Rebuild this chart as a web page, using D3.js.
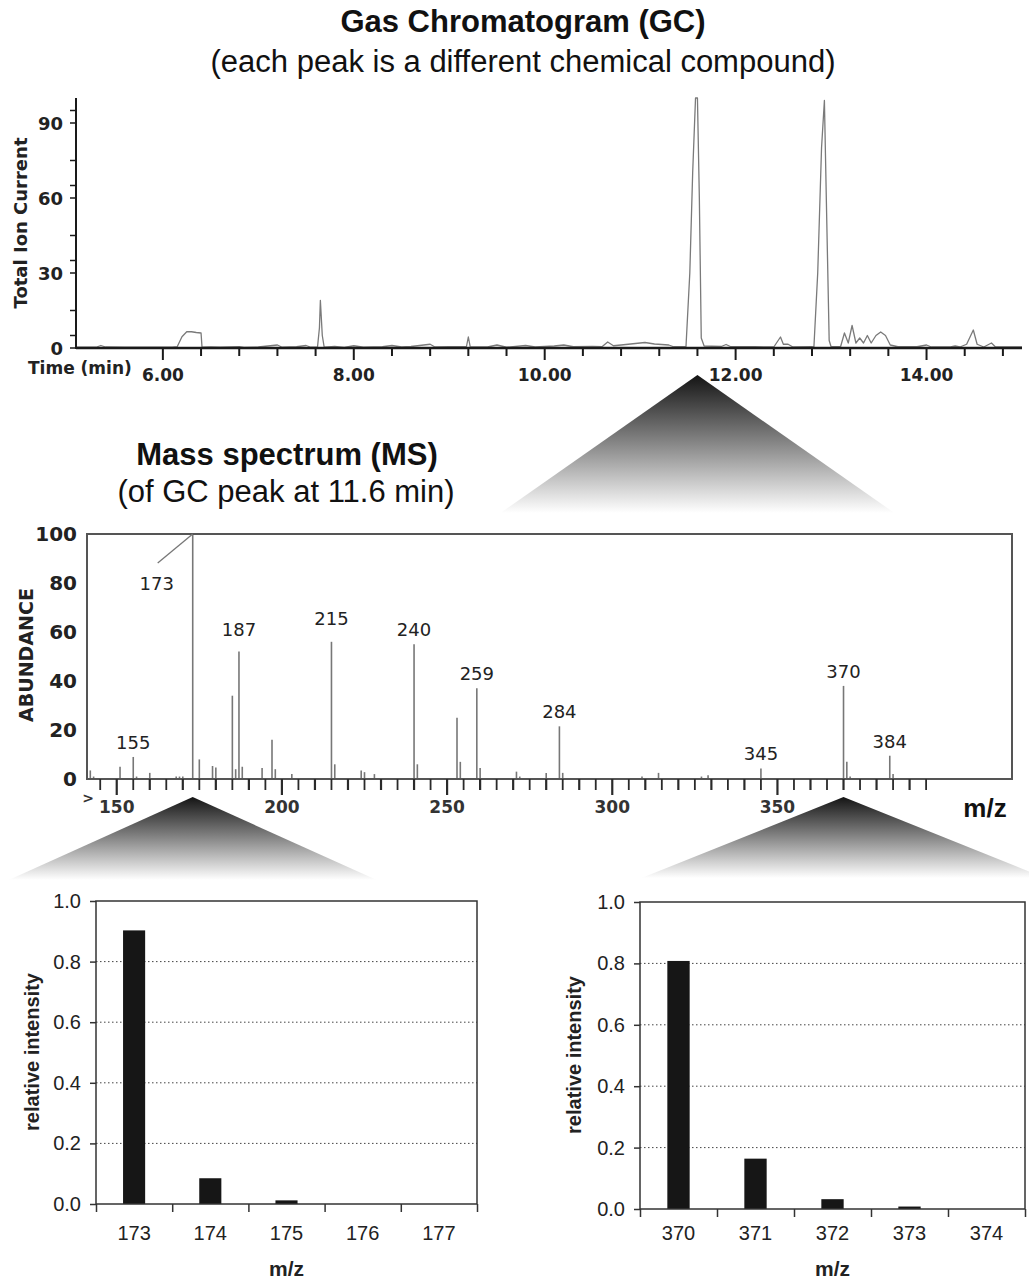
<!DOCTYPE html>
<html>
<head>
<meta charset="utf-8">
<script src="https://cdn.jsdelivr.net/npm/d3@7"></script>
<style>
  body { margin: 0; background: #fff; }
  svg { display: block; }
</style>
</head>
<body>
<div id="chart"></div>
<script>
const width = 1029;
const height = 1281;

// ---- GC trace (time in min, total ion current)
const gcTime = [5.09, 5.3, 5.35, 5.4, 5.6, 5.9, 6.1, 6.15, 6.2, 6.25, 6.3, 6.35, 6.4, 6.41, 6.5, 6.6, 6.8, 6.85,
  7.0, 7.2, 7.25, 7.4, 7.5, 7.55, 7.62, 7.64, 7.65, 7.67, 7.69, 7.8, 7.9, 8.0, 8.1, 8.3, 8.4, 8.5, 8.6, 8.8, 8.85,
  9.0, 9.18, 9.2, 9.22, 9.4, 9.5, 9.6, 9.8, 9.9, 10.1, 10.2, 10.3, 10.5, 10.6, 10.66, 10.72, 10.8, 10.95, 11.05,
  11.15, 11.3, 11.35, 11.48, 11.52, 11.55, 11.58, 11.6, 11.62, 11.64, 11.67, 11.75, 11.85, 11.9, 11.95, 12.2, 12.4,
  12.47, 12.5, 12.55, 12.6, 12.8, 12.82, 12.86, 12.9, 12.93, 12.95, 12.98, 13.0, 13.1, 13.14, 13.18, 13.22, 13.26,
  13.3, 13.34, 13.38, 13.42, 13.47, 13.52, 13.57, 13.62, 13.7, 13.9, 14.0, 14.05, 14.25, 14.3, 14.35, 14.42, 14.49,
  14.53, 14.6, 14.68, 14.72, 15.0];
const gcSignal = [0.3, 0.3, 1.0, 0.4, 0.3, 0.3, 0.3, 0.5, 4.5, 6.5, 6.5, 6.2, 6.0, 0.3, 0.4, 0.3, 0.5, 0.2,
  0.4, 1.2, 0.3, 0.5, 1.0, 0.3, 0.4, 8, 19, 5, 0.3, 0.6, 0.2, 0.9, 0.3, 0.5, 1.0, 0.4, 0.6, 1.5, 0.4,
  0.5, 0.5, 4.4, 0.4, 0.4, 1.2, 0.3, 1.0, 0.4, 0.8, 1.2, 0.5, 0.6, 0.5, 2.4, 0.9, 1.2, 1.8, 2.2,
  1.6, 1.2, 0.5, 0.5, 30, 70, 100, 100, 60, 4, 0.8, 0.7, 0.6, 1.4, 0.5, 0.5, 0.4,
  4.4, 1.5, 1.5, 0.4, 0.5, 0.3, 30, 80, 99, 60, 3, 0.5, 0.6, 6, 2, 9, 2,
  4, 2, 5, 2, 5, 6.4, 5, 1.2, 0.5, 0.5, 1.2, 0.4, 0.4, 0.8, 0.4, 1.5, 7.2,
  1.5, 0.4, 2, 0.5, 0.4];
const gcMajorTicks = [6, 8, 10, 12, 14];
const gcMinorTicks = d3.range(6, 14.81, 0.4);
const gcYLabels = [0, 30, 60, 90];
const gcYMinor = [5, 15, 35, 45, 65, 75, 95];
const gcPeakTime = 11.6;

// ---- mass spectrum of the 11.6 min peak
const msMz = [142, 143, 151, 155, 156, 160, 168, 169, 170, 173, 175, 179, 180, 185, 186, 187, 188, 194, 197, 198,
  203, 215, 216, 224, 225, 228, 240, 241, 253, 254, 259, 260, 271, 272, 280, 284, 285, 309, 314, 327, 329,
  345, 370, 371, 372, 384, 385];
const msAbund = [3.5, 1, 5, 9, 1, 2.5, 1, 1, 1, 100, 8, 5.3, 4.7, 34, 4, 52, 5, 4.5, 16, 4,
  2, 56, 6, 3.5, 2.8, 2, 55, 6, 25, 7, 37, 4.5, 3, 1, 2.5, 21.5, 2.5, 1, 2.5, 1, 1.5,
  4.3, 38, 7, 1, 9.5, 2];
const msLabelled = [155, 173, 187, 215, 240, 259, 284, 345, 370, 384];
const msMajorTicks = [150, 200, 250, 300, 350];
const msMinorTicks = d3.range(145, 396, 5);
const msYTicks = [0, 20, 40, 60, 80, 100];

// ---- isotope clusters
const isoLeftMz = ["173", "174", "175", "176", "177"];
const isoLeftVal = [0.903, 0.085, 0.012, 0, 0];
const isoRightMz = ["370", "371", "372", "373", "374"];
const isoRightVal = [0.808, 0.164, 0.032, 0.008, 0];
const isoYTicks = [0, 0.2, 0.4, 0.6, 0.8, 1.0];

const svg = d3.select("#chart")
  .append("svg")
  .attr("width", width)
  .attr("height", height);

svg.append("rect").attr("width", width).attr("height", height).attr("fill", "#fff");

// gradient for the "zoom" triangles
const grad = svg.append("defs").append("linearGradient")
  .attr("id", "fade")
  .attr("x1", 0).attr("y1", 0).attr("x2", 0).attr("y2", 1);
grad.append("stop").attr("offset", "0%").attr("stop-color", "#141414");
grad.append("stop").attr("offset", "45%").attr("stop-color", "#7c7c7c");
grad.append("stop").attr("offset", "100%").attr("stop-color", "#ffffff");

const titleFont = "'Liberation Sans', Arial, Helvetica, sans-serif";
const axisFont = "'DejaVu Sans', Verdana, sans-serif";

function text(x, y, str, opts) {
  const t = svg.append("text")
    .attr("x", x).attr("y", y)
    .attr("text-anchor", opts.anchor || "middle")
    .attr("font-family", opts.family || titleFont)
    .attr("font-size", opts.size)
    .attr("font-weight", opts.weight || "normal")
    .attr("fill", opts.fill || "#111")
    .text(str);
  if (opts.rotate) t.attr("transform", `rotate(-90,${x},${y})`);
  return t;
}

function triangle(apexX, apexY, baseY, halfW) {
  svg.append("path")
    .attr("d", `M${apexX},${apexY}L${apexX + halfW},${baseY}L${apexX - halfW},${baseY}Z`)
    .attr("fill", "url(#fade)");
}

// ================= GC =================
text(523, 32, "Gas Chromatogram (GC)", { size: 31, weight: "bold" });
text(523, 72, "(each peak is a different chemical compound)", { size: 31 });

const xGC = d3.scaleLinear().domain([5.09, 15.0]).range([76, 1022]);
const yGC = d3.scaleLinear().domain([0, 100]).range([348, 98]);

const gc = svg.append("g");

gc.append("path")
  .datum(gcTime.map((t, i) => [t, gcSignal[i]]))
  .attr("fill", "none")
  .attr("stroke", "#7a7a7a")
  .attr("stroke-width", 1.3)
  .attr("stroke-linejoin", "round")
  .attr("d", d3.line().x(d => xGC(d[0])).y(d => yGC(d[1])));

// x axis ticks
gc.selectAll(".gcmin")
  .data(gcMinorTicks)
  .enter().append("line")
  .attr("x1", d => xGC(d)).attr("x2", d => xGC(d))
  .attr("y1", 348).attr("y2", d => gcMajorTicks.some(m => Math.abs(m - d) < 1e-6) ? 360 : 356)
  .attr("stroke", "#1a1a1a").attr("stroke-width", 2);

gc.selectAll(".gclab")
  .data(gcMajorTicks)
  .enter().append("text")
  .attr("x", d => xGC(d)).attr("y", 381)
  .attr("text-anchor", "middle")
  .attr("font-family", axisFont).attr("font-size", 17).attr("font-weight", "bold")
  .attr("fill", "#222")
  .text(d => d.toFixed(2));

// y axis ticks
gc.selectAll(".gcy")
  .data(gcYLabels.concat(gcYMinor))
  .enter().append("line")
  .attr("x1", 70).attr("x2", 76)
  .attr("y1", d => yGC(d)).attr("y2", d => yGC(d))
  .attr("stroke", "#1a1a1a").attr("stroke-width", 1.5);

gc.selectAll(".gcylab")
  .data(gcYLabels)
  .enter().append("text")
  .attr("x", 63).attr("y", d => yGC(d) + 6.5)
  .attr("text-anchor", "end")
  .attr("font-family", axisFont).attr("font-size", 18).attr("font-weight", "bold")
  .attr("fill", "#222")
  .text(d => d);

gc.append("line")
  .attr("x1", 76).attr("x2", 1022).attr("y1", 348).attr("y2", 348)
  .attr("stroke", "#1a1a1a").attr("stroke-width", 2.5);
gc.append("line")
  .attr("x1", 76).attr("x2", 76).attr("y1", yGC(100)).attr("y2", 349)
  .attr("stroke", "#1a1a1a").attr("stroke-width", 2);

text(27, 223, "Total Ion Current", { size: 18, weight: "bold", family: axisFont, rotate: true, fill: "#222" });
text(28, 374, "Time (min)", { size: 17, weight: "bold", family: axisFont, anchor: "start", fill: "#222" });

triangle(xGC(gcPeakTime), 375, 513, 197);

// ================= MS =================
text(287, 465, "Mass spectrum (MS)", { size: 31, weight: "bold" });
text(286, 502, "(of GC peak at 11.6 min)", { size: 31 });

const xMS = d3.scaleLinear().domain([141, 421]).range([87, 1012]);
const yMS = d3.scaleLinear().domain([0, 100]).range([779, 534]);

const ms = svg.append("g");

ms.selectAll(".peak")
  .data(msMz.map((m, i) => [m, msAbund[i]]))
  .enter().append("line")
  .attr("x1", d => xMS(d[0])).attr("x2", d => xMS(d[0]))
  .attr("y1", yMS(0)).attr("y2", d => yMS(d[1]))
  .attr("stroke", "#777").attr("stroke-width", 1.6);

ms.append("rect")
  .attr("x", xMS(141)).attr("y", yMS(100))
  .attr("width", xMS(421) - xMS(141)).attr("height", yMS(0) - yMS(100))
  .attr("fill", "none").attr("stroke", "#555").attr("stroke-width", 2);

// peak labels
const labelLift = { 187: 8, 215: 9 };
ms.selectAll(".plab")
  .data(msLabelled.filter(m => m !== 173))
  .enter().append("text")
  .attr("x", d => xMS(d))
  .attr("y", d => yMS(msAbund[msMz.indexOf(d)]) - 8 - (labelLift[d] || 0))
  .attr("text-anchor", "middle")
  .attr("font-family", axisFont).attr("font-size", 18)
  .attr("fill", "#222")
  .text(d => d);

// base peak label with leader line
ms.append("line")
  .attr("x1", xMS(173) - 35).attr("y1", yMS(100) + 29)
  .attr("x2", xMS(173)).attr("y2", yMS(100))
  .attr("stroke", "#777").attr("stroke-width", 1.3);
text(xMS(173) - 36, yMS(100) + 56, "173", { size: 18, family: axisFont, fill: "#222" });

// m/z ticks
ms.selectAll(".mst")
  .data(msMinorTicks)
  .enter().append("line")
  .attr("x1", d => xMS(d)).attr("x2", d => xMS(d))
  .attr("y1", yMS(0)).attr("y2", d => msMajorTicks.includes(d) ? yMS(0) + 16 : yMS(0) + 11)
  .attr("stroke", "#2a2a2a").attr("stroke-width", d => d % 10 === 0 ? 2.2 : 1.8);

ms.selectAll(".msxl")
  .data(msMajorTicks)
  .enter().append("text")
  .attr("x", d => xMS(d)).attr("y", 813)
  .attr("text-anchor", "middle")
  .attr("font-family", axisFont).attr("font-size", 17).attr("font-weight", "bold")
  .attr("fill", "#333")
  .text(d => d);

ms.selectAll(".msyl")
  .data(msYTicks)
  .enter().append("text")
  .attr("x", 77).attr("y", d => yMS(d) + 7)
  .attr("text-anchor", "end")
  .attr("font-family", axisFont).attr("font-size", 20).attr("font-weight", "bold")
  .attr("fill", "#222")
  .text(d => d);

text(88, 803, ">", { size: 14, weight: "bold", family: axisFont, fill: "#333" });
text(33, 655, "ABUNDANCE", { size: 19, weight: "bold", family: axisFont, rotate: true, fill: "#222" });
text(985, 817, "m/z", { size: 26, weight: "bold" });

triangle(xMS(173), 797, 880, 184);
triangle(xMS(370), 797, 878, 202);

// ================= isotope bar charts =================
function isoChart(cats, vals, left, right, top, bottom, ylabX, ylabY) {
  const g = svg.append("g");
  const x = d3.scaleBand().domain(cats).range([left, right]).paddingInner(0.71).paddingOuter(0.355);
  const y = d3.scaleLinear().domain([0, 1]).range([bottom, top]);
  const xEdge = d3.scaleLinear().domain([0, cats.length]).range([left, right]);

  // dotted grid
  g.selectAll(".grid")
    .data(isoYTicks.filter(v => v > 0 && v < 1))
    .enter().append("line")
    .attr("x1", left).attr("x2", right)
    .attr("y1", d => y(d)).attr("y2", d => y(d))
    .attr("stroke", "#444").attr("stroke-width", 1)
    .attr("stroke-dasharray", "1.5,2.5");

  g.selectAll(".bar")
    .data(cats)
    .enter().append("rect")
    .attr("x", d => x(d))
    .attr("width", x.bandwidth())
    .attr("y", (d, i) => y(vals[i]))
    .attr("height", (d, i) => y(0) - y(vals[i]))
    .attr("fill", "#161616");

  g.append("rect")
    .attr("x", left).attr("y", top)
    .attr("width", right - left).attr("height", bottom - top)
    .attr("fill", "none").attr("stroke", "#333").attr("stroke-width", 1.5);

  const yAxis = g.append("g")
    .attr("transform", `translate(${left},0)`)
    .call(d3.axisLeft(y).tickValues(isoYTicks).tickFormat(d3.format(".1f")).tickSize(6).tickPadding(9));
  yAxis.select(".domain").remove();
  yAxis.selectAll("line").attr("stroke", "#333").attr("stroke-width", 1.5);
  yAxis.selectAll("text")
    .attr("font-family", titleFont).attr("font-size", 20).attr("fill", "#222");

  const xTicks = g.append("g")
    .attr("transform", `translate(0,${bottom})`)
    .call(d3.axisBottom(xEdge).tickValues(d3.range(0, cats.length + 1)).tickFormat("").tickSize(8));
  xTicks.select(".domain").remove();
  xTicks.selectAll("line").attr("stroke", "#333").attr("stroke-width", 1.5);

  g.selectAll(".xl")
    .data(cats)
    .enter().append("text")
    .attr("x", d => x(d) + x.bandwidth() / 2)
    .attr("y", 1240)
    .attr("text-anchor", "middle")
    .attr("font-family", titleFont).attr("font-size", 20).attr("fill", "#222")
    .text(d => d);

  text(ylabX, ylabY, "relative intensity", { size: 20, weight: "bold", rotate: true, fill: "#222" });
  text((left + right) / 2, 1276, "m/z", { size: 21, weight: "bold", fill: "#222" });
}

isoChart(isoLeftMz, isoLeftVal, 96, 477, 901, 1204, 39, 1052);
isoChart(isoRightMz, isoRightVal, 640, 1025, 902, 1209, 581, 1055);
</script>
</body>
</html>
